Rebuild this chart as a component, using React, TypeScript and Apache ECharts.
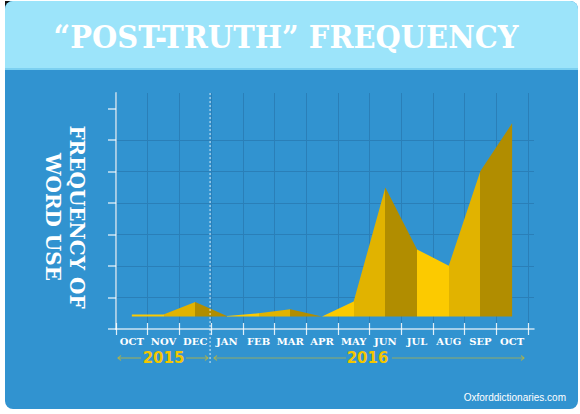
import React, { useEffect, useRef } from "react";
import * as echarts from "echarts";

// ---- data ----
const months = ["OCT", "NOV", "DEC", "JAN", "FEB", "MAR", "APR", "MAY", "JUN", "JUL", "AUG", "SEP", "OCT"];
const frequency = [4.6, 4.6, 8.6, 4.1, 5.0, 6.3, 4.0, 8.7, 45.0, 25.3, 20.1, 50.2, 65.4];
const yTicks = [0, 10, 20, 30, 40, 50, 60, 70];
const years = ["2015", "2016"];
const titleText = "\u201CPOST-TRUTH\u201D FREQUENCY";
const yName = "FREQUENCY OF\nWORD USE";
const sourceText = "Oxforddictionaries.com";

// ---- style constants ----
const BG = "#3193D0";
const BAND = "#9CE4FA";
const GRIDLINE = "#2A7FB8";
const facetColors = ["#FCCA00", "#E1B300", "#B18D00"];
const YEAR_COLOR = "#F3C600";
const BRACKET = "rgba(243,198,0,0.5)";

const GRID_LEFT = 116;
const GRID_TOP = 93;
const GRID_BOTTOM_Y = 329;
const BAND_W = 31.69;
const CAT_W = BAND_W * months.length;

function facetGradient() {
  const n = frequency.length - 1;
  const stops: { offset: number; color: string }[] = [];
  for (let i = 0; i < n; i++) {
    const c = facetColors[i % 3];
    stops.push({ offset: i / n, color: c });
    stops.push({ offset: (i + 1) / n, color: c });
  }
  return new echarts.graphic.LinearGradient(0, 0, 1, 0, stops);
}

function arrow(x: number, y: number, dir: number) {
  return {
    type: "polyline",
    z: 10,
    shape: { points: [[x - dir * 3, y - 2.5], [x, y], [x - dir * 3, y + 2.5]] },
    style: { stroke: BRACKET, lineWidth: 1.2, fill: null },
  };
}

function hline(x1: number, x2: number, y: number) {
  return {
    type: "line",
    z: 10,
    shape: { x1, y1: y, x2, y2: y },
    style: { stroke: BRACKET, lineWidth: 1.2 },
  };
}

export default function App() {
  const ref = useRef<HTMLDivElement>(null);

  useEffect(() => {
    if (!ref.current) return;
    const chart = echarts.init(ref.current, null, { renderer: "svg" });
    const divX = GRID_LEFT + 3 * BAND_W - 1;
    const yb = 358;
    const y2015 = GRID_LEFT + 1.5 * BAND_W;
    const y2016 = GRID_LEFT + 8 * BAND_W - 2;

    const option: any = {
      animation: false,
      backgroundColor: "transparent",
      grid: [
        { left: GRID_LEFT, top: GRID_TOP, width: CAT_W, height: GRID_BOTTOM_Y - GRID_TOP },
        { left: GRID_LEFT, top: GRID_TOP, width: 418, height: GRID_BOTTOM_Y - GRID_TOP },
      ],
      xAxis: [
        {
          type: "category",
          gridIndex: 0,
          data: months,
          boundaryGap: true,
          axisLine: { show: false },
          axisTick: { show: true, interval: 0, length: 6, inside: false, lineStyle: { color: "rgba(255,255,255,0.85)", width: 1.2 } },
          axisLabel: {
            interval: 0,
            color: "#FFFFFF",
            fontFamily: "DejaVu Serif",
            fontWeight: "bold",
            fontSize: 10,
            margin: 7,
          },
          splitLine: { show: true, interval: 0, lineStyle: { color: GRIDLINE, width: 1 } },
        },
        {
          type: "value",
          gridIndex: 1,
          min: 0,
          max: 1,
          axisLine: { show: true, lineStyle: { color: "rgba(255,255,255,0.75)", width: 1.5 } },
          axisTick: { show: false },
          axisLabel: { show: false },
          splitLine: { show: false },
        },
        {
          type: "category",
          gridIndex: 0,
          position: "bottom",
          data: months,
          boundaryGap: true,
          axisLine: { show: false },
          axisTick: { show: true, interval: 0, length: 6, inside: true, lineStyle: { color: "rgba(255,255,255,0.85)", width: 1.2 } },
          axisLabel: { show: false },
          splitLine: { show: false },
        },
      ],
      yAxis: [
        { type: "value", gridIndex: 0, min: 0, max: 75, show: false },
        {
          type: "value",
          gridIndex: 1,
          min: 0,
          max: 75,
          interval: 10,
          axisLine: { show: true, lineStyle: { color: "rgba(255,255,255,0.55)", width: 2 } },
          axisTick: { show: true, length: 8, customValues: yTicks, lineStyle: { color: "rgba(255,255,255,0.75)", width: 1.5 } },
          axisLabel: { show: false },
          splitLine: { show: true, showMinLine: false, showMaxLine: false, lineStyle: { color: GRIDLINE, width: 1 } },
        },
      ],
      series: [
        {
          type: "line",
          xAxisIndex: 0,
          yAxisIndex: 0,
          data: frequency,
          symbol: "none",
          lineStyle: { width: 0, opacity: 0 },
          areaStyle: { origin: 4, color: facetGradient(), opacity: 1 },
          z: 3,
        },
      ],
      graphic: [
        {
          type: "text",
          x: 286,
          y: 36,
          scaleY: 1.12,
          z: 11,
          style: {
            text: titleText,
            fill: "#FFFFFF",
            font: "bold 29px 'DejaVu Serif'",
            align: "center",
            verticalAlign: "middle",
            textShadowColor: "#D6F5FE",
            textShadowBlur: 0,
            textShadowOffsetX: 2,
            textShadowOffsetY: 2,
          },
        },
        {
          type: "text",
          x: 65,
          y: 217,
          rotation: -Math.PI / 2,
          z: 11,
          style: {
            text: yName,
            fill: "#FFFFFF",
            font: "bold 20px 'DejaVu Serif'",
            lineHeight: 24,
            align: "center",
            verticalAlign: "middle",
            textShadowColor: "rgba(255,255,255,0.45)",
            textShadowBlur: 0,
            textShadowOffsetX: 1.5,
            textShadowOffsetY: 1.5,
          },
        },
        {
          type: "line",
          z: 10,
          shape: { x1: divX, y1: GRID_TOP, x2: divX, y2: 365 },
          style: { stroke: "rgba(255,255,255,0.8)", lineWidth: 1, lineDash: [2, 2] },
        },
        hline(118, 141, yb),
        hline(186, 208, yb),
        arrow(118, yb, -1),
        arrow(208, yb, 1),
        hline(214, 346, yb),
        hline(392, 524, yb),
        arrow(214, yb, -1),
        arrow(524, yb, 1),
        {
          type: "text",
          x: y2015,
          y: yb,
          z: 11,
          style: {
            text: years[0],
            fill: YEAR_COLOR,
            font: "bold 15px 'DejaVu Sans'",
            align: "center",
            verticalAlign: "middle",
          },
        },
        {
          type: "text",
          x: y2016,
          y: yb,
          z: 11,
          style: {
            text: years[1],
            fill: YEAR_COLOR,
            font: "bold 15px 'DejaVu Sans'",
            align: "center",
            verticalAlign: "middle",
          },
        },
        {
          type: "text",
          x: 566,
          y: 397,
          z: 11,
          style: {
            text: sourceText,
            fill: "#FFFFFF",
            font: "10px 'Liberation Sans Narrow', 'Liberation Sans', sans-serif",
            align: "right",
            verticalAlign: "middle",
          },
        },
      ],
    };
    chart.setOption(option);
    return () => chart.dispose();
  }, []);

  return (
    <div style={{ position: "absolute", left: 0, top: 0, width: 580, height: 414, background: "#FFFFFF" }}>
      <div style={{ position: "absolute", left: 5, top: 1, width: 8, height: 8, background: "#111111" }} />
      <div
        style={{
          position: "absolute",
          left: 5,
          top: 1,
          width: 573,
          height: 408,
          borderRadius: 8,
          background: BG,
          overflow: "hidden",
        }}
      >
        <div style={{ position: "absolute", left: 0, top: 0, width: 573, height: 67, background: BAND }} />
        <div style={{ position: "absolute", left: 0, top: 67, width: 573, height: 2, background: "#7CD0F1" }} />
      </div>
      <div ref={ref} style={{ position: "absolute", left: 0, top: 0, width: 580, height: 414 }} />
    </div>
  );
}
